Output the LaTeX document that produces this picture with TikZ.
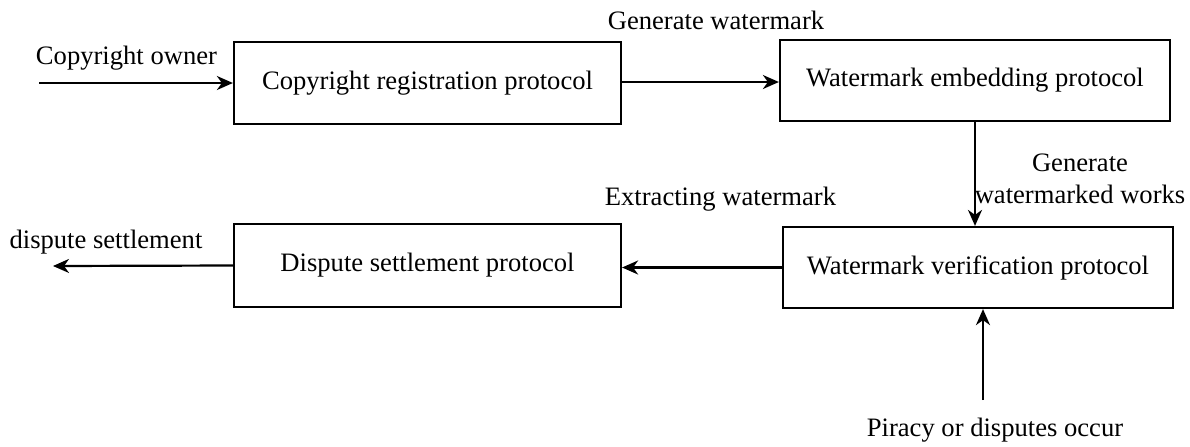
\documentclass[tikz,border=0pt]{standalone}
\usepackage{fontspec}
\setmainfont{Liberation Serif}
\usetikzlibrary{positioning, arrows.meta}
\tikzset{
  proto/.style={draw, line width=1.1pt, inner sep=0pt, align=center, font=\fontsize{13.3}{16}\selectfont},
  arr/.style={-{Stealth[length=8pt, width=7pt, inset=2.5pt]}, line width=1.1pt},
  lbl/.style={inner sep=0pt, align=center, font=\fontsize{13.3}{16}\selectfont}
}
\begin{document}
\begin{tikzpicture}[x=0.5pt, y=-0.5pt]
\useasboundingbox (0,0) rectangle (1190,446);
\node[proto, minimum width=193.5pt, minimum height=41pt] (reg) at (427.5,83) {Copyright registration protocol};
\node[proto, minimum width=195pt, minimum height=40.5pt] (emb) at (975,80.5) {Watermark embedding protocol};
\node[proto, minimum width=195pt, minimum height=40.5pt] (ver) at (978,267.5) {Watermark verification protocol};
\node[proto, minimum width=193.5pt, minimum height=41.5pt] (dsp) at (427.5,265.5) {Dispute settlement protocol};
\coordinate (owner) at (39,83);
\coordinate (settle) at (53,266);
\coordinate (piracy) at (983,400);
% labels
\node[lbl] (lowner) at (126.5,58) {Copyright owner};
\node[lbl] (lgen) at (716,20) {Generate watermark};
\node[lbl] (lworks) at (1080,179) {Generate\\watermarked works};
\node[lbl] (lext) at (720.5,199) {Extracting watermark};
\node[lbl] (lsettle) at (106,242) {dispute settlement};
\node[lbl] (lpir) at (995,430) {Piracy or disputes occur};
% connectors
\draw[arr] (owner) -- (owner -| reg.west);
\draw[arr] (reg.east |- 0,82) -- (emb.west |- 0,82);
\draw[arr] (emb.south -| 975,0) -- (ver.north -| 975,0);
\draw[arr] (ver.west) -- (ver.west -| dsp.east);
\draw[arr] (dsp.west) -- (settle);
\draw[arr] (piracy) -- (piracy |- ver.south);
\end{tikzpicture}
\end{document}
